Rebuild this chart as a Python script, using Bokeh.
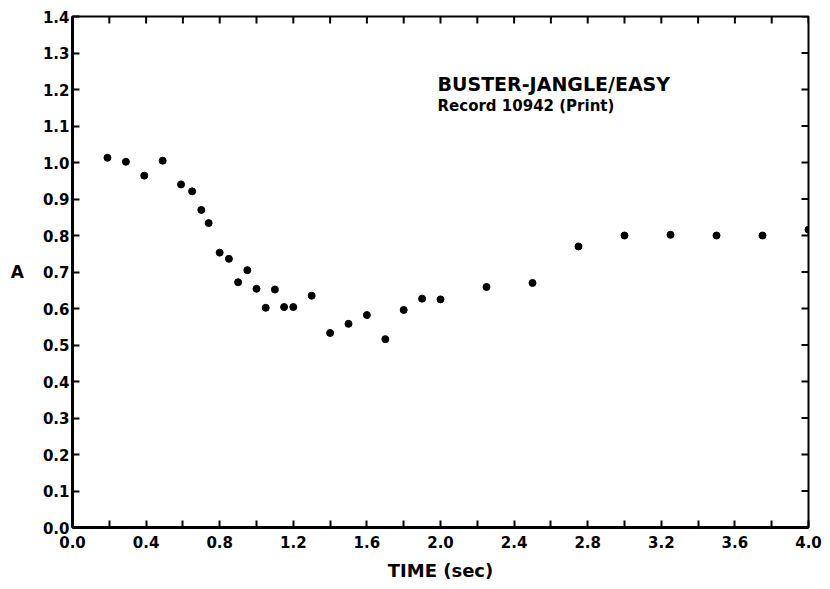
import math
from bokeh.plotting import figure
from bokeh.models import LinearAxis, FixedTicker, Label, Range1d, PrintfTickFormatter
from bokeh.embed import file_html
from bokeh.resources import INLINE

# Data
time_sec = [0.19, 0.29, 0.39, 0.49, 0.59, 0.65, 0.70, 0.74, 0.80, 0.85, 0.90,
            0.95, 1.00, 1.05, 1.10, 1.15, 1.20, 1.30, 1.40, 1.50, 1.60, 1.70,
            1.80, 1.90, 2.00, 2.25, 2.50, 2.75, 3.00, 3.25, 3.50, 3.75, 4.00]
a_values = [1.013, 1.002, 0.964, 1.005, 0.940, 0.921, 0.870, 0.834, 0.753, 0.736, 0.672,
            0.705, 0.654, 0.602, 0.652, 0.604, 0.604, 0.635, 0.533, 0.558, 0.582, 0.516,
            0.596, 0.627, 0.625, 0.659, 0.670, 0.770, 0.800, 0.802, 0.800, 0.800, 0.816]

x_major = [0.0, 0.4, 0.8, 1.2, 1.6, 2.0, 2.4, 2.8, 3.2, 3.6, 4.0]
x_minor = [0.2, 0.6, 1.0, 1.4, 1.8, 2.2, 2.6, 3.0, 3.4, 3.8]
y_major = [0.0, 0.1, 0.2, 0.3, 0.4, 0.5, 0.6, 0.7, 0.8, 0.9, 1.0, 1.1, 1.2, 1.3, 1.4]

title_line1 = "BUSTER-JANGLE/EASY"
title_line2 = "Record 10942 (Print)"

FONT = "DejaVu Sans"
X_MIN, X_MAX = 0.0, 4.0
Y_MIN, Y_MAX = 0.0, 1.4

p = figure(width=828, height=587, output_backend="svg", toolbar_location=None,
           x_range=Range1d(X_MIN, X_MAX), y_range=Range1d(Y_MIN, Y_MAX),
           min_border_left=72, min_border_right=20, min_border_top=16, min_border_bottom=60,
           x_axis_location=None, y_axis_location=None)
p.grid.visible = False
p.outline_line_color = "black"
p.outline_line_width = 2
p.background_fill_color = "white"
p.border_fill_color = "white"

def style_axis(ax, ticks, minor):
    ax.ticker = FixedTicker(ticks=ticks, minor_ticks=minor)
    ax.axis_line_width = 3
    ax.axis_line_color = "black"
    ax.major_tick_in = 7
    ax.major_tick_out = 0
    ax.minor_tick_in = 7
    ax.minor_tick_out = 0
    ax.major_tick_line_width = 2
    ax.minor_tick_line_width = 2
    ax.major_tick_line_color = "black"
    ax.minor_tick_line_color = "black"
    ax.formatter = PrintfTickFormatter(format="%.1f")
    ax.major_label_text_font = FONT
    ax.major_label_text_font_style = "bold"
    ax.major_label_text_font_size = "15px"
    ax.major_label_text_color = "black"

xb = LinearAxis(axis_label="TIME (sec)")
style_axis(xb, x_major, x_minor)
xb.major_label_standoff = 8
xb.axis_label_standoff = 9
xb.axis_label_text_font = FONT
xb.axis_label_text_font_style = "bold"
xb.axis_label_text_font_size = "18px"
xb.axis_label_text_color = "black"
p.add_layout(xb, "below")

yl = LinearAxis(axis_label="A")
style_axis(yl, y_major, [])
yl.major_label_standoff = 3
yl.axis_label_standoff = 16
yl.axis_label_orientation = "horizontal"
yl.axis_label_text_font = FONT
yl.axis_label_text_font_style = "bold"
yl.axis_label_text_font_size = "17px"
yl.axis_label_text_color = "black"
p.add_layout(yl, "left")

# Inward tick marks on the top and right frame edges (half of each dash is clipped by the frame)
top_ticks = x_major + x_minor
p.scatter(top_ticks, [Y_MAX] * len(top_ticks), marker="dash", size=14,
          angle=math.pi / 2, line_color="black", line_width=2)
p.scatter([X_MAX] * len(y_major), y_major, marker="dash", size=14,
          angle=0, line_color="black", line_width=2)

p.scatter(time_sec, a_values, size=7, color="black", line_color="black")

p.add_layout(Label(x=1.984, y=1.2145, text=title_line1, text_font=FONT,
                   text_font_style="bold", text_font_size="19px", text_color="black",
                   text_baseline="alphabetic"))
p.add_layout(Label(x=1.984, y=1.156, text=title_line2, text_font=FONT,
                   text_font_style="bold", text_font_size="15px", text_color="black",
                   text_baseline="alphabetic"))

open("out.html", "w").write(file_html(p, INLINE))
